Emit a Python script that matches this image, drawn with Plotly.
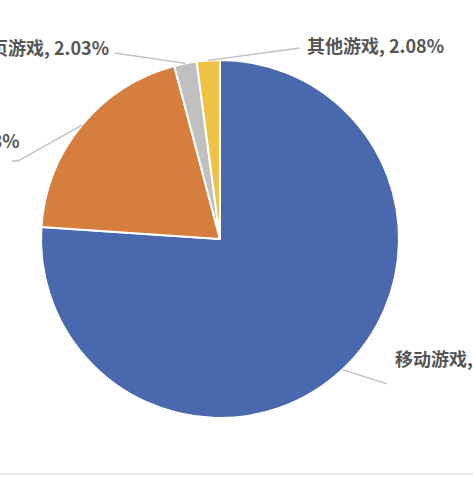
import math
import plotly.graph_objects as go

# 游戏市场份额 (%)
categories = ["移动游戏", "客户端游戏", "网页游戏", "其他游戏"]
shares = [76.06, 19.83, 2.03, 2.08]
colors = ["#4a68ad", "#d67e3e", "#c0c0c0", "#eec244"]

W, H = 473, 477
# pie geometry in pixels
cx, cy, r = 220, 239, 179

# label placement: leader line bends (px) and text anchor (px)
label_layout = {
    "移动游戏": dict(bend=[(387, 384)], text=(393, 358), anchor="left"),
    "客户端游戏": dict(bend=[(18, 161), (12, 161)], text=(22, 140), anchor="right"),
    "网页游戏": dict(bend=[(115, 53)], text=(111, 47), anchor="right"),
    "其他游戏": dict(bend=[(300, 48)], text=(305, 45), anchor="left"),
}


def px(x, y):
    return x / W, 1 - y / H


fig = go.Figure()
fig.add_pie(
    labels=categories,
    values=shares,
    sort=False,
    direction="clockwise",
    rotation=0,
    textinfo="none",
    hoverinfo="label+percent",
    marker=dict(colors=colors, line=dict(color="white", width=2)),
    domain=dict(x=[(cx - r) / W, (cx + r) / W], y=[1 - (cy + r) / H, 1 - (cy - r) / H]),
    showlegend=False,
)

total = sum(shares)
cum = 0
shapes = []
annotations = []
for cat, val in zip(categories, shares):
    mid = (cum + val / 2) / total * 2 * math.pi
    cum += val
    sx = cx + r * math.sin(mid)
    sy = cy - r * math.cos(mid)
    lay = label_layout[cat]
    pts = [(sx, sy)] + lay["bend"]
    path = ""
    for i, (x, y) in enumerate(pts):
        X, Y = px(x, y)
        path += ("M" if i == 0 else " L") + f" {X:.4f},{Y:.4f}"
    shapes.append(dict(type="path", path=path, xref="paper", yref="paper",
                       line=dict(color="#bfbfbf", width=1.3)))
    tx, ty = px(*lay["text"])
    annotations.append(dict(
        x=tx, y=ty, xref="paper", yref="paper", showarrow=False,
        xanchor=lay["anchor"], yanchor="middle",
        text=f"<b>{cat}, {val:.2f}%</b>",
        font=dict(family="Noto Sans CJK SC", size=18, color="#555555"),
    ))

# faint chart border at the bottom
bx0, by = px(0, 474)
shapes.append(dict(type="line", xref="paper", yref="paper", x0=0, x1=1, y0=by, y1=by,
                   line=dict(color="#e3e3e3", width=1.5)))

fig.update_layout(
    width=W, height=H,
    margin=dict(l=0, r=0, t=0, b=0),
    paper_bgcolor="white",
    plot_bgcolor="white",
    shapes=shapes,
    annotations=annotations,
)

# page body has a default 8px margin; drop it so the chart fills the window
fig.write_html("out.html", config={"displayModeBar": False},
               post_script="document.body.style.margin='0';")
